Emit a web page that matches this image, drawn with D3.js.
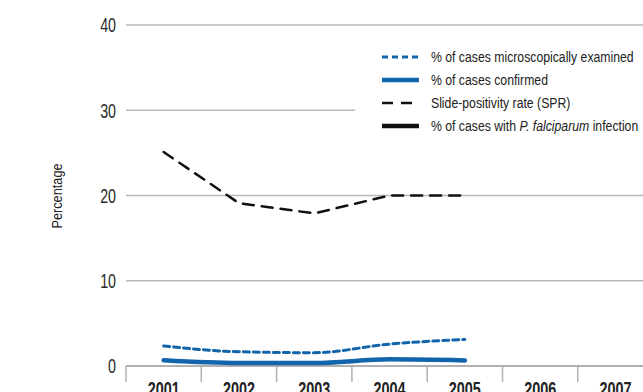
<!DOCTYPE html>
<html><head><meta charset="utf-8">
<script src="https://cdn.jsdelivr.net/npm/d3@7"></script>
<style>
html,body{margin:0;padding:0;background:#fff;}
svg{display:block;}
text{font-family:"Liberation Sans","Arial",sans-serif;}
</style></head><body>
<svg id="c" width="643" height="392"></svg>
<script>
const years = ["2001","2002","2003","2004","2005","2006","2007"];
const yTicks = [0,10,20,30,40];
const examined = [2.35, 1.67, 1.56, 2.57, 3.12, null, null];
const confirmed = [0.67, 0.35, 0.35, 0.78, 0.65, null, null];
const spr = [25.1, 19.1, 17.9, 20.0, 20.0, null, null];
const falciparum = [null, null, null, null, null, null, null];
const seriesNames = ["% of cases microscopically examined","% of cases confirmed","Slide-positivity rate (SPR)","% of cases with "];

const svg = d3.select("#c");
const x = d3.scaleBand().domain(years).range([126, 126 + 7*75.3]);
const y = d3.scaleLinear().domain([0,40]).range([366, 25]);

function squeeze(t, ratio){
  const tx = +t.attr("x"), ty = +t.attr("y");
  t.attr("transform", `translate(${tx},${ty}) scale(${ratio},1) translate(${-tx},${-ty})`);
}

// gridlines
const gridEnd = {0:643,10:643,20:643,30:355,40:643};
svg.append("g").selectAll("line").data(yTicks.filter(d=>d>0)).join("line")
  .attr("x1",126).attr("x2",d=>gridEnd[d])
  .attr("y1",d=>y(d)).attr("y2",d=>y(d))
  .attr("stroke","#b8b8b8").attr("stroke-width",1.5);

// y tick labels
svg.append("g").selectAll("text").data(yTicks).join("text")
  .attr("x",116).attr("y",d=>y(d)+7.5)
  .attr("text-anchor","end").attr("font-size",21).attr("fill","#2a2a2a")
  .text(d=>d)
  .each(function(){ squeeze(d3.select(this), 0.68); });

// x axis baseline and separators
svg.append("line").attr("x1",126).attr("x2",643).attr("y1",366).attr("y2",366)
  .attr("stroke","#b0b0b0").attr("stroke-width",2);
svg.append("g").selectAll("line").data(years).join("line")
  .attr("x1",d=>x(d)).attr("x2",d=>x(d)).attr("y1",366).attr("y2",382)
  .attr("stroke","#b0b0b0").attr("stroke-width",1.5);
svg.append("line").attr("x1",x.range()[1]).attr("x2",x.range()[1]).attr("y1",366).attr("y2",382)
  .attr("stroke","#b0b0b0").attr("stroke-width",1.5);
svg.append("g").selectAll("text").data(years).join("text")
  .attr("x",d=>x(d)+x.bandwidth()/2).attr("y",396.5)
  .attr("text-anchor","middle").attr("font-size",20).attr("font-weight","bold").attr("fill","#222")
  .text(d=>d)
  .each(function(){ squeeze(d3.select(this), 0.72); });

// y axis title
svg.append("text").attr("transform","translate(62,196) rotate(-90) scale(0.88,1)")
  .attr("x",0).attr("y",0)
  .attr("text-anchor","middle").attr("font-size",14.5).attr("fill","#222").text("Percentage");

const blue = "#1265ab";
function draw(vals, color, width, dash, curve){
  const line = d3.line().defined(d=>d[1]!=null)
    .x(d=>x(d[0])+x.bandwidth()/2).y(d=>y(d[1])).curve(curve);
  svg.append("path").datum(years.map((yr,i)=>[yr,vals[i]]))
    .attr("d",line).attr("fill","none").attr("stroke",color)
    .attr("stroke-width",width).attr("stroke-dasharray",dash)
    .attr("stroke-linecap","round");
}
draw(spr,"#111",2.5,"11,8",d3.curveLinear);
draw(examined,blue,3,"6,4",d3.curveMonotoneX);
draw(confirmed,blue,4.5,null,d3.curveMonotoneX);
draw(falciparum,"#111",4.5,null,d3.curveMonotoneX);

// legend
const leg = [
  {c:blue,w:3,d:"6,4"},
  {c:blue,w:4.5,d:null},
  {c:"#111",w:2.5,d:"11,8"},
  {c:"#111",w:4.5,d:null}
];
const ly = [57,80,103,126];
leg.forEach((l,i)=>{
  svg.append("line").attr("x1",382).attr("x2",419).attr("y1",ly[i]).attr("y2",ly[i])
    .attr("stroke",l.c).attr("stroke-width",l.w).attr("stroke-dasharray",l.d);
  const t = svg.append("text").attr("x",431).attr("y",ly[i]+5)
    .attr("font-size",14.5).attr("fill","#222");
  if(i<3) t.text(seriesNames[i]);
  else {
    t.append("tspan").text(seriesNames[3]);
    t.append("tspan").attr("font-style","italic").text("P. falciparum");
    t.append("tspan").text(" infection");
  }
  squeeze(t, 0.845);
});
</script></body></html>
